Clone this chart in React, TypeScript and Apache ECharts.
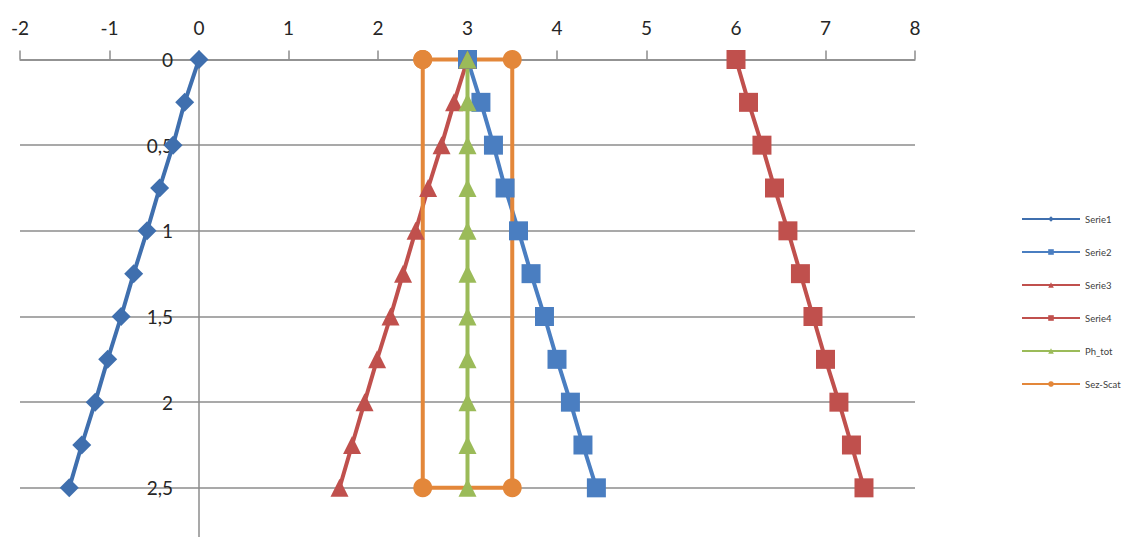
import React, { useEffect, useRef } from "react";
import * as echarts from "echarts";

const depths = [0, 0.25, 0.5, 0.75, 1, 1.25, 1.5, 1.75, 2, 2.25, 2.5];
const serie1 = [0, -0.16, -0.29, -0.44, -0.58, -0.73, -0.87, -1.02, -1.16, -1.31, -1.45];
const serie2 = [3, 3.15, 3.29, 3.42, 3.57, 3.71, 3.86, 4.0, 4.15, 4.29, 4.44];
const serie3 = [3, 2.85, 2.71, 2.56, 2.42, 2.28, 2.14, 1.99, 1.85, 1.71, 1.57];
const serie4 = [6, 6.14, 6.29, 6.43, 6.58, 6.72, 6.86, 7.0, 7.15, 7.29, 7.43];
const phTot = [3, 3, 3, 3, 3, 3, 3, 3, 3, 3, 3];
const sezX = [2.5, 3.5, 3.5, 2.5, 2.5];
const sezY = [0, 0, 2.5, 2.5, 0];

const FONT = "Lato, 'Open Sans', sans-serif";

const pairs = (xs: number[], ys: number[]) => xs.map((x, i) => [x, ys[i]]);

export default function App() {
  const ref = useRef<HTMLDivElement>(null);
  useEffect(() => {
    if (!ref.current) return;
    const chart = echarts.init(ref.current, undefined, { renderer: "svg" });
    const mk = (name: string, color: string, symbol: string, size: number, data: number[][]) => ({
      name,
      type: "line",
      data,
      symbol,
      symbolSize: size,
      showAllSymbol: true,
      lineStyle: { color, width: 4 },
      itemStyle: { color },
      emphasis: { disabled: true },
      clip: false,
    });
    chart.setOption({
      animation: false,
      backgroundColor: "#ffffff",
      textStyle: { fontFamily: FONT },
      grid: {
        left: 20,
        right: 211,
        top: 59.5,
        bottom: -36.5,
        containLabel: false,
        outerBoundsMode: "none",
      },
      legend: {
        orient: "vertical",
        left: 1021,
        top: 214,
        padding: 0,
        itemWidth: 58,
        itemHeight: 7,
        itemGap: 23,
        textStyle: { fontSize: 9.5, color: "#404040", fontFamily: FONT },
        data: ["Serie1", "Serie2", "Serie3", "Serie4", "Ph_tot", "Sez-Scat"],
      },
      xAxis: {
        type: "value",
        position: "top",
        min: -2,
        max: 8,
        interval: 1,
        axisLine: { show: true, onZero: false, lineStyle: { color: "#8c8c8c", width: 1.5 } },
        axisTick: { show: true, inside: false, length: 9, lineStyle: { color: "#8c8c8c", width: 1.5 } },
        axisLabel: { fontSize: 19, color: "#262626", margin: 23, fontFamily: FONT },
        splitLine: { show: false },
      },
      yAxis: {
        type: "value",
        inverse: true,
        position: "left",
        offset: -179,
        min: 0,
        max: 3,
        interval: 0.5,
        axisLine: { show: true, onZero: false, lineStyle: { color: "#8c8c8c", width: 1.5 } },
        axisTick: { show: false },
        axisLabel: {
          fontSize: 19,
          color: "#262626",
          margin: 26,
          fontFamily: FONT,
          showMaxLabel: false,
          formatter: (v: number) => String(v).replace(".", ","),
        },
        splitLine: { show: true, lineStyle: { color: "#8c8c8c", width: 1.5 } },
      },
      series: [
        mk("Serie1", "#3F6FAE", "diamond", 19, pairs(serie1, depths)),
        mk("Serie2", "#4A7EC1", "rect", 19, pairs(serie2, depths)),
        mk("Serie3", "#C0504D", "triangle", 18, pairs(serie3, depths)),
        mk("Serie4", "#C0504D", "rect", 19, pairs(serie4, depths)),
        mk("Ph_tot", "#9BBB59", "triangle", 18, pairs(phTot, depths)),
        mk("Sez-Scat", "#E3873A", "circle", 19, pairs(sezX, sezY)),
      ],
    });
    return () => chart.dispose();
  }, []);
  return (
    <div
      ref={ref}
      style={{ position: "fixed", left: 0, top: 0, width: 1126, height: 537 }}
    />
  );
}
